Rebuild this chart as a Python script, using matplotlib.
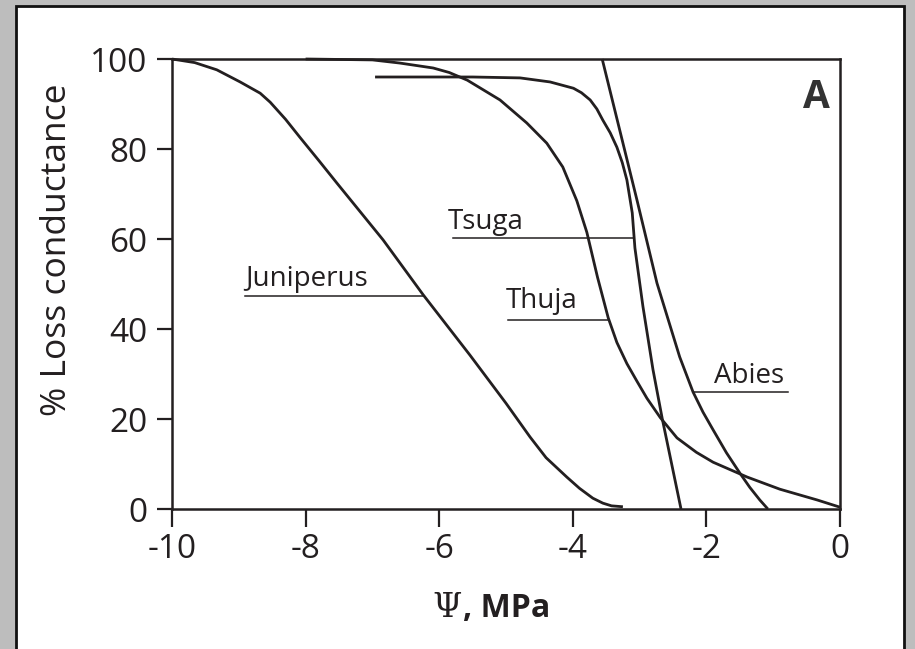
import numpy as np
import matplotlib
matplotlib.use("Agg")
import matplotlib.pyplot as plt
from matplotlib.patches import Rectangle

# vulnerability curves: water potential (MPa) vs % loss of conductance
juniperus_x = [-10, -9.66, -9.33, -8.98, -8.68, -8.53, -8.3, -8.08, -7.8, -7.53, -6.84,
               -6.24, -5.54, -5.0, -4.64, -4.4, -4.09, -3.9, -3.70, -3.55, -3.42, -3.25]
juniperus_y = [100, 99.2, 97.6, 94.9, 92.4, 90.4, 86.6, 82.5, 77.4, 72.4, 59.8,
               47.6, 34.2, 23.5, 16.0, 11.4, 7.1, 4.6, 2.4, 1.3, 0.7, 0.5]

thuja_x = [-8.0, -7.0, -6.59, -6.09, -5.85, -5.58, -5.09, -4.69, -4.39, -4.15, -3.94,
           -3.79, -3.63, -3.47, -3.34, -3.19, -3.04, -2.89, -2.69, -2.44, -2.15,
           -1.90, -1.39, -0.90, -0.34, 0]
thuja_y = [100, 99.8, 99.1, 98.0, 97.0, 95.3, 90.9, 85.8, 81.3, 76, 68.5,
           61.5, 51.5, 42.5, 37.0, 32.3, 28.4, 24.6, 20.3, 15.8, 12.6,
           10.4, 7.1, 4.4, 2.0, 0.4]

tsuga_x = [-6.96, -5.5, -4.79, -4.34, -3.99, -3.87, -3.74, -3.64, -3.55, -3.44, -3.34,
           -3.26, -3.19, -3.11, -3.07, -2.95, -2.80, -2.66, -2.52, -2.38]
tsuga_y = [96, 96, 95.8, 94.9, 93.5, 92.5, 90.9, 88.9, 86.4, 83.6, 80.4,
           77, 73.1, 65.8, 58, 45, 31, 20, 10, 0]

abies_x = [-3.56, -3.04, -2.74, -2.40, -2.20, -2.05, -1.90, -1.70, -1.50, -1.35, -1.20, -1.08]
abies_y = [100, 68.7, 50.2, 33.8, 26, 21.5, 17.6, 12.5, 8, 4.8, 2, 0]

x_ticks = [-10, -8, -6, -4, -2, 0]
x_ticklabels = ["-10", "-8", "-6", "-4", "-2", "0"]
y_ticks = [0, 20, 40, 60, 80, 100]

ink = "#231f20"
W, H = 915, 649

fig = plt.figure(figsize=(W / 100, H / 100), dpi=100, facecolor="#bdbdbd")

# white panel with a dark frame, kept behind the axes
panel = Rectangle((16 / W, -0.05), (904 - 16) / W, 1.05 - 6 / H,
                  transform=fig.transFigure, facecolor="white",
                  edgecolor="#111111", linewidth=2, zorder=-5)
fig.patches.append(panel)

ax = fig.add_axes([172 / W, 1 - 509 / H, (840 - 172) / W, (509 - 59) / H])
ax.set_facecolor("white")

curves = {
    "Juniperus": (juniperus_x, juniperus_y),
    "Thuja": (thuja_x, thuja_y),
    "Tsuga": (tsuga_x, tsuga_y),
    "Abies": (abies_x, abies_y),
}
for name, (xs, ys) in curves.items():
    ax.plot(xs, ys, color=ink, lw=2.0, solid_joinstyle="round",
            solid_capstyle="butt", clip_on=False)


def curve_x_at(name, y):
    xs, ys = curves[name]
    return np.interp(y, ys[::-1], xs[::-1])


# labels with leader lines running to their curve
# (name, text x, text baseline y, leader y, leader from, leader to)
labels = [
    ("Tsuga", -5.87, 62.3, 60.2, -5.79, None),
    ("Thuja", -5.00, 44.7, 42.0, -4.97, None),
    ("Juniperus", -8.91, 49.6, 47.4, -8.91, None),
    ("Abies", -1.88, 28.0, 26.0, None, -0.78),
]
for name, tx, ty, ly, x0, x1 in labels:
    ax.text(tx, ty, name, fontsize=20, family="Open Sans", color=ink, va="baseline")
    if x0 is None:
        x0 = curve_x_at(name, ly)
    if x1 is None:
        x1 = curve_x_at(name, ly)
    ax.plot([x0, x1], [ly, ly], color=ink, lw=1.1)

ax.text(0.985, 0.891, "A", transform=ax.transAxes, ha="right", va="baseline",
        fontsize=28, fontweight="bold", family="Open Sans", color="#333333")

ax.set_xlim(-10, 0)
ax.set_ylim(0, 100)
ax.set_xticks(x_ticks)
ax.set_xticklabels(x_ticklabels)
ax.set_yticks(y_ticks)
for s in ax.spines.values():
    s.set_linewidth(1.8)
    s.set_color(ink)
ax.tick_params(axis="x", direction="out", length=13, width=1.6, pad=4, colors=ink,
               labelsize=24)
ax.tick_params(axis="y", direction="out", length=10.5, width=1.6, pad=7, colors=ink,
               labelsize=24)
for lab in ax.get_xticklabels() + ax.get_yticklabels():
    lab.set_family("Open Sans")

fig.text(57 / W, 1 - 250 / H, "% Loss conductance", rotation=90, ha="center",
         va="center", fontsize=25.5, family="Open Sans", color=ink)
fig.text(462 / W, 1 - 617 / H, "\u03a8", ha="right", va="baseline", fontsize=24,
         family="DejaVu Serif", color=ink)
fig.text(463 / W, 1 - 617 / H, ", MPa", ha="left", va="baseline", fontsize=23,
         fontweight="bold", family="Open Sans", color=ink)

fig.savefig("out.png", dpi=100, facecolor=fig.get_facecolor())
